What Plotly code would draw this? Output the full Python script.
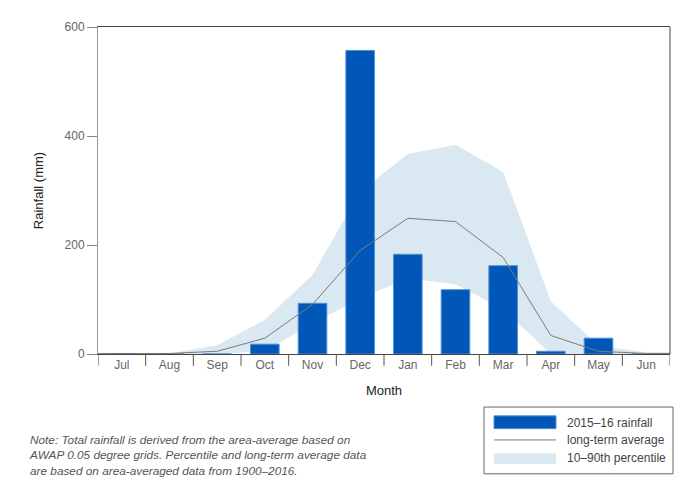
import plotly.graph_objects as go

# --- DATA ---
months = ['Jul', 'Aug', 'Sep', 'Oct', 'Nov', 'Dec', 'Jan', 'Feb', 'Mar', 'Apr', 'May', 'Jun']
rain_2015_16 = [0, 0, 0, 18, 93, 557, 183, 118, 162, 5, 29, 0]
long_term_avg = [1, 1, 5, 29, 91, 190, 249, 243, 177, 34, 5, 1]
pct_10 = [0, 0, 0, 5, 56, 102, 139, 128, 82, 0, 0, 0]
pct_90 = [1, 1, 16, 63, 145, 298, 367, 384, 334, 97, 15, 3]

# --- CONFIG ---
W, H = 700, 498
PAGE_PAD = 8          # browser body margin around the plot div
L, R, T, B = 98, 30, 21, 144   # plot box in window pixels
FONT = 'Arial, Liberation Sans, sans-serif'
BAR_BLUE = '#0057b8'
BAR_EDGE = '#4f8fd8'
BAND = '#dae8f2'
LINE_GREY = '#7a7a7a'
Y_RANGE = [0, 600]


def fx(px):
    # window pixel -> paper x
    return (px - L) / (W - L - R)


def fy(py):
    # window pixel -> paper y
    return (H - B - py) / (H - T - B)


pos = list(range(len(months)))
x_range = [pos[0] - 0.5, pos[-1] + 0.5]
# line & band run from plot edge to plot edge
edge_x = [x_range[0]] + pos + [x_range[1]]


def edged(vals):
    return [vals[0]] + list(vals) + [vals[-1]]


fig = go.Figure()

# 10-90th percentile band (base axes, so it sits under the bars)
fig.add_trace(go.Scatter(
    x=edge_x + edge_x[::-1],
    y=edged(pct_90) + edged(pct_10)[::-1],
    fill='toself', fillcolor=BAND, line=dict(width=0),
    mode='lines', hoverinfo='skip', showlegend=False
))

# 2015-16 rainfall (overlay axes)
fig.add_trace(go.Bar(
    x=pos, y=rain_2015_16, xaxis='x2', yaxis='y2',
    marker=dict(color=BAR_BLUE, line=dict(color=BAR_EDGE, width=1)),
    showlegend=False
))

# long-term average
fig.add_trace(go.Scatter(
    x=edge_x, y=edged(long_term_avg), mode='lines', xaxis='x2', yaxis='y2',
    line=dict(color=LINE_GREY, width=1), showlegend=False
))

shapes = []
# boundary ticks on the month axis
for i in range(len(months) + 1):
    shapes.append(dict(type='line', xref='x', yref='paper', x0=i - 0.5, x1=i - 0.5,
                       y0=0, y1=fy(366), line=dict(color='#555', width=1)))
# right border
shapes.append(dict(type='line', xref='paper', yref='paper', x0=1, x1=1, y0=0, y1=1,
                   line=dict(color='#444', width=1)))

# hand-drawn legend box (wide swatches like the original)
shapes.append(dict(type='rect', xref='paper', yref='paper', x0=fx(484), x1=fx(673),
                   y0=fy(476), y1=fy(408), line=dict(color='#666', width=1), fillcolor='white'))
shapes.append(dict(type='rect', xref='paper', yref='paper', x0=fx(494), x1=fx(556),
                   y0=fy(430), y1=fy(417), line=dict(color=BAR_EDGE, width=1), fillcolor=BAR_BLUE))
shapes.append(dict(type='line', xref='paper', yref='paper', x0=fx(494), x1=fx(556),
                   y0=fy(441.5), y1=fy(441.5), line=dict(color=LINE_GREY, width=1)))
shapes.append(dict(type='rect', xref='paper', yref='paper', x0=fx(494), x1=fx(556),
                   y0=fy(466), y1=fy(455), line=dict(width=0), fillcolor=BAND))

annotations = []
for label, ypx in [('2015–16 rainfall', 424), ('long-term average', 442), ('10–90th percentile', 460)]:
    annotations.append(dict(text=label, xref='paper', yref='paper', x=fx(565), y=fy(ypx),
                            xanchor='left', yanchor='middle', showarrow=False,
                            font=dict(family=FONT, size=12, color='#444')))

annotations.append(dict(
    text='<i>Note: Total rainfall is derived from the area-average based on<br>'
         'AWAP 0.05 degree grids. Percentile and long-term average data<br>'
         'are based on area-averaged data from 1900–2016.</i>',
    xref='paper', yref='paper', x=fx(27), y=fy(457), xanchor='left', yanchor='middle',
    align='left', showarrow=False, font=dict(family=FONT, size=11.8, color='#555')
))

fig.update_layout(
    width=W - PAGE_PAD, height=H - PAGE_PAD,
    margin=dict(l=L - PAGE_PAD, r=R, t=T - PAGE_PAD, b=B),
    paper_bgcolor='white', plot_bgcolor='white',
    font=dict(family=FONT),
    bargap=0.4,
    showlegend=False,
    xaxis=dict(
        range=x_range, tickvals=pos, ticktext=months, ticks='',
        showgrid=False, zeroline=False, showline=True, linecolor='#444', linewidth=1, mirror=True,
        tickfont=dict(size=12, color='#666'),
        title=dict(text='Month', font=dict(size=13, color='#222'), standoff=14)
    ),
    yaxis=dict(
        range=Y_RANGE, tickvals=[0, 200, 400, 600], ticks='outside', ticklen=10,
        tickcolor='#888', showgrid=False, zeroline=False, showline=True, linecolor='#999',
        linewidth=1, tickfont=dict(size=12, color='#666'),
        title=dict(text='Rainfall (mm)', font=dict(size=13, color='#222'), standoff=18)
    ),
    xaxis2=dict(overlaying='x', range=x_range, visible=False),
    yaxis2=dict(overlaying='y', range=Y_RANGE, visible=False),
    shapes=shapes,
    annotations=annotations
)

fig.write_html("out.html")
